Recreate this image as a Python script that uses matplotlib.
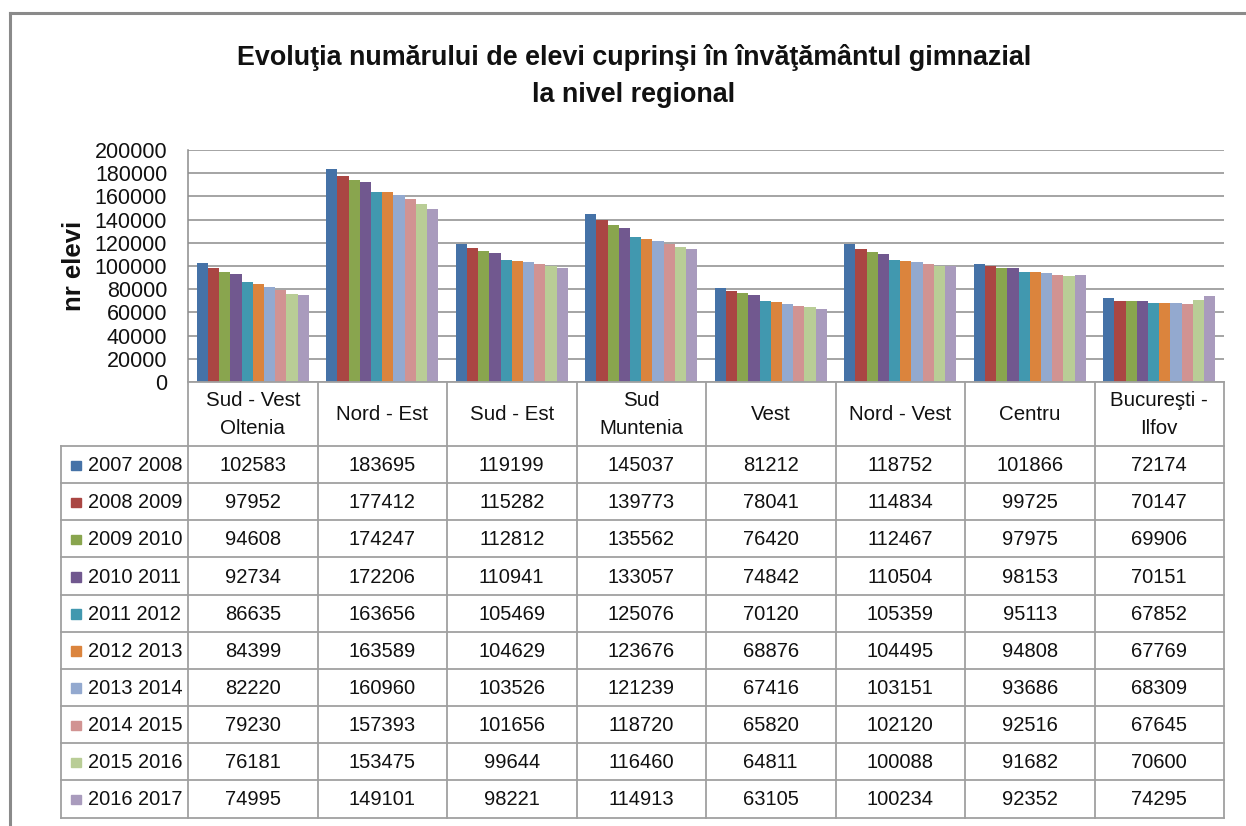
import matplotlib
matplotlib.use("Agg")
import matplotlib.pyplot as plt
from matplotlib import font_manager
import numpy as np

# ---------------- data ----------------
regions = ["Sud - Vest\nOltenia", "Nord - Est", "Sud - Est", "Sud\nMuntenia",
           "Vest", "Nord - Vest", "Centru", "Bucureşti -\nIlfov"]
years = ["2007 2008", "2008 2009", "2009 2010", "2010 2011", "2011 2012",
         "2012 2013", "2013 2014", "2014 2015", "2015 2016", "2016 2017"]
v_2007_2008 = [102583, 183695, 119199, 145037, 81212, 118752, 101866, 72174]
v_2008_2009 = [97952, 177412, 115282, 139773, 78041, 114834, 99725, 70147]
v_2009_2010 = [94608, 174247, 112812, 135562, 76420, 112467, 97975, 69906]
v_2010_2011 = [92734, 172206, 110941, 133057, 74842, 110504, 98153, 70151]
v_2011_2012 = [86635, 163656, 105469, 125076, 70120, 105359, 95113, 67852]
v_2012_2013 = [84399, 163589, 104629, 123676, 68876, 104495, 94808, 67769]
v_2013_2014 = [82220, 160960, 103526, 121239, 67416, 103151, 93686, 68309]
v_2014_2015 = [79230, 157393, 101656, 118720, 65820, 102120, 92516, 67645]
v_2015_2016 = [76181, 153475, 99644, 116460, 64811, 100088, 91682, 70600]
v_2016_2017 = [74995, 149101, 98221, 114913, 63105, 100234, 92352, 74295]
series = [v_2007_2008, v_2008_2009, v_2009_2010, v_2010_2011, v_2011_2012,
          v_2012_2013, v_2013_2014, v_2014_2015, v_2015_2016, v_2016_2017]
y_ticks = list(range(0, 200001, 20000))
title = "Evoluţia numărului de elevi cuprinşi în învăţământul gimnazial\nla nivel regional"
y_label = "nr elevi"

colors = ["#4572A7", "#AA4643", "#89A54E", "#71588F", "#4198AF",
          "#DB843D", "#93A9CF", "#D19392", "#B9CD96", "#A99BBD"]

avail = {f.name for f in font_manager.fontManager.ttflist}
font = "Liberation Sans" if "Liberation Sans" in avail else "DejaVu Sans"
plt.rcParams["font.family"] = [font, "DejaVu Sans"]

W, H = 1246, 826
fig = plt.figure(figsize=(W / 100, H / 100), dpi=100)

def fx(px):
    return px / W

def fy(py):
    return 1 - py / H

GRID = "#8c8c8c"
LINE = "#a0a0a0"
TXT = "#111111"

# ---------------- plot area ----------------
left, right = 188.0, 1224.0
top, bottom = 150.0, 382.0
ax = fig.add_axes([fx(left), fy(bottom), fx(right - left), fy(top) - fy(bottom)])
n_reg = len(regions)
n_ser = len(series)
group_w = 0.866
bw = group_w / n_ser
x = np.arange(n_reg)
for i, (vals, c) in enumerate(zip(series, colors)):
    ax.bar(x - group_w / 2 + bw * (i + 0.5), vals, width=bw, color=c,
           linewidth=0, zorder=3, label=years[i])
ax.set_xlim(-0.5, n_reg - 0.5)
ax.set_ylim(0, 200000)
ax.set_yticks(y_ticks)
ax.set_yticklabels([str(t) for t in y_ticks], fontsize=15.5, color=TXT)
ax.tick_params(axis="y", length=0, pad=15)
ax.set_xticks([])
ax.yaxis.grid(True, color=GRID, linewidth=1.1, zorder=0)
for s in ["top", "right", "bottom"]:
    ax.spines[s].set_visible(False)
ax.spines["left"].set_color(GRID)
ax.spines["left"].set_linewidth(1.1)
ax.set_ylabel(y_label, fontsize=18.5, fontweight="bold", labelpad=6, color=TXT)

# ---------------- title ----------------
fig.text(fx(634), fy(76), title, ha="center", va="center", fontsize=19.4,
         fontweight="bold", linespacing=1.55, color=TXT)

# ---------------- data table ----------------
tax = fig.add_axes([0, 0, 1, 1])
tax.set_xlim(0, W)
tax.set_ylim(H, 0)
tax.axis("off")
col_w = (right - left) / n_reg
tab_left = 61.0
hdr_top, hdr_bot = bottom, 446.0
row_h = (817.5 - hdr_bot) / n_ser
tab_bot = hdr_bot + row_h * n_ser

lw = 1.3
for j in range(n_reg + 1):
    xx = left + j * col_w
    tax.plot([xx, xx], [hdr_top, tab_bot], color=LINE, lw=lw)
tax.plot([left, right], [hdr_top, hdr_top], color=LINE, lw=lw)
tax.plot([tab_left, tab_left], [hdr_bot, tab_bot], color=LINE, lw=lw)
for r in range(n_ser + 1):
    yy = hdr_bot + r * row_h
    tax.plot([tab_left, right], [yy, yy], color=LINE, lw=lw)

for j, reg in enumerate(regions):
    tax.text(left + (j + 0.5) * col_w, (hdr_top + hdr_bot) / 2 + 1, reg,
             ha="center", va="center", fontsize=14.8, linespacing=1.6,
             color=TXT)

for r, (vals, c) in enumerate(zip(series, colors)):
    yc = hdr_bot + (r + 0.5) * row_h + 1
    tax.add_patch(plt.Rectangle((71, yc - 5), 9.5, 9.5, color=c))
    tax.text(87.5, yc, years[r], ha="left", va="center", fontsize=14.4,
             color=TXT)
    for j, v in enumerate(vals):
        tax.text(left + (j + 0.5) * col_w, yc, str(v), ha="center", va="center",
                 fontsize=14.5, color=TXT)

# ---------------- outer chart border ----------------
tax.plot([10, 10], [13, H], color="#8a8a8a", lw=2.2)
tax.plot([10, W], [13, 13], color="#8a8a8a", lw=2.2)

fig.savefig("out.png", dpi=100)
